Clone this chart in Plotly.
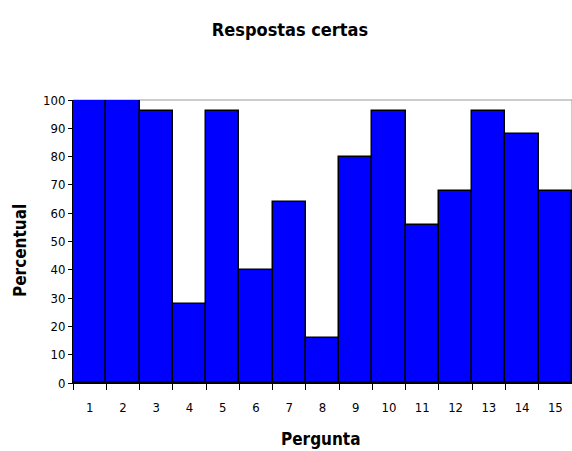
import plotly.graph_objects as go

perguntas = [str(i) for i in range(1, 16)]
percentual = [100, 100, 96, 28, 96, 40, 64, 16, 80, 96, 56, 68, 96, 88, 68]
y_ticks = list(range(0, 101, 10))

FONT = "DejaVu Sans Condensed, Liberation Sans Narrow, Arial Narrow, sans-serif"
xs = list(range(1, 16))

W, H = 572, 451

fig = go.Figure(go.Bar(
    x=xs, y=percentual, width=1,
    marker=dict(color="#0000FF", line=dict(color="black", width=1.5)),
))

fig.update_layout(
    width=W, height=H,
    margin=dict(l=73, r=0, t=100, b=68),
    paper_bgcolor="white", plot_bgcolor="white",
    showlegend=False,
    font=dict(family=FONT, size=13, color="black"),
    title=dict(text="<b>Respostas certas</b>", x=290 / W, xanchor="center",
               y=1 - 30 / H, yanchor="middle",
               font=dict(family=FONT, size=18, color="black")),
    bargap=0,
    annotations=[
        dict(text="<b>Percentual</b>", xref="paper", yref="paper",
             x=-(73 - 20) / (W - 73), y=1 - (251 - 100) / (H - 168),
             xanchor="center", yanchor="middle", textangle=-90, showarrow=False,
             font=dict(family=FONT, size=17, color="black")),
        dict(text="<b>Pergunta</b>", xref="paper", yref="paper",
             x=(321 - 73) / (W - 73), y=-(439 - 383) / (H - 168),
             xanchor="center", yanchor="middle", showarrow=False,
             font=dict(family=FONT, size=17, color="black")),
    ],
)
fig.update_xaxes(
    range=[0.5, 15.5], tickmode="array", tickvals=xs, ticktext=perguntas,
    ticks="", ticklabelstandoff=12,
    minor=dict(tick0=0.5, dtick=1, ticks="outside", ticklen=6, tickcolor="black", tickwidth=1),
    showline=True, linecolor="black", linewidth=1, showgrid=False, zeroline=False,
)
fig.update_yaxes(
    range=[0, 100], tickmode="array", tickvals=y_ticks,
    ticks="outside", ticklen=4, tickcolor="black",
    showline=True, linecolor="black", linewidth=1, showgrid=False, zeroline=False,
)
fig.add_shape(type="rect", xref="paper", yref="paper", x0=0, x1=1, y0=0, y1=1,
              line=dict(color="#999999", width=1), layer="below")

fig.write_html("out.html", config={"displayModeBar": False},
               post_script="document.body.style.margin='0';document.body.style.overflow='hidden';")
